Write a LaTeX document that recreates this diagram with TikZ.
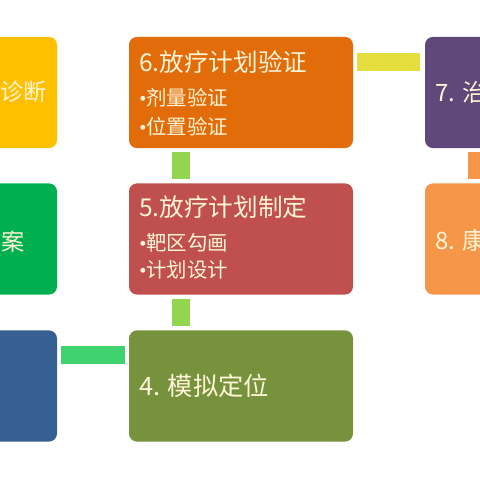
\documentclass[tikz,border=0pt]{standalone}
\usepackage{fontspec}
\setmainfont{Noto Sans CJK SC}
\newfontfamily\latinfont{Liberation Serif}
\usepackage{tikz}
\pgfdeclarelayer{bg}
\pgfsetlayers{bg,main}
\definecolor{boxyellow}{RGB}{255,192,0}
\definecolor{boxorange}{RGB}{227,108,10}
\definecolor{boxpurple}{RGB}{96,73,122}
\definecolor{boxgreen}{RGB}{0,176,80}
\definecolor{boxred}{RGB}{192,80,77}
\definecolor{boxlight}{RGB}{245,150,72}
\definecolor{boxblue}{RGB}{54,96,146}
\definecolor{boxolive}{RGB}{118,146,60}
\definecolor{linkyellow}{RGB}{228,222,62}
\definecolor{linklime}{RGB}{146,214,80}
\definecolor{linkgreen}{RGB}{64,210,110}
\definecolor{cream}{RGB}{255,245,215}
\newcommand{\itemdot}{{\latinfont\char"2022}}
\tikzset{
    every node/.style={inner sep=0mm},
    box/.style={rectangle, rounded corners=2mm, minimum width=5.6cm, minimum height=2.78cm},
    txt/.style={text=cream, anchor=west, font=\fontsize{17.5pt}{20pt}\selectfont},
    item/.style={txt, font=\fontsize{14.5pt}{17pt}\selectfont},
    link/.style={line width=4.5mm}
}
\begin{document}
\begin{tikzpicture}
        \useasboundingbox (0cm, 0cm) rectangle (12cm, 12cm);
        \clip (0cm, 0cm) rectangle (12cm, 12cm);
        \node (b1) [box, fill=boxyellow] at (-1.375cm, 9.6875cm) {};
        \node (b6) [box, fill=boxorange] at (6.025cm, 9.6875cm) {};
        \node (b7) [box, fill=boxpurple] at (13.425cm, 9.6875cm) {};
        \node (b2) [box, fill=boxgreen] at (-1.375cm, 6.025cm) {};
        \node (b5) [box, fill=boxred] at (6.025cm, 6.025cm) {};
        \node (b8) [box, fill=boxlight] at (13.425cm, 6.025cm) {};
        \node (b3) [box, fill=boxblue] at (-1.375cm, 2.35cm) {};
        \node (b4) [box, fill=boxolive] at (6.025cm, 2.35cm) {};
        \node (t1) [txt, anchor=east, font=\fontsize{16.5pt}{19pt}\selectfont] at (1.175cm, 9.7cm) {诊断};
        \node (t2) [txt, anchor=east, font=\fontsize{16.5pt}{19pt}\selectfont] at (0.625cm, 5.95cm) {案};
        \node (t6) [txt] at (3.475cm, 10.45cm) {6.放疗计划验证};
        \node (t6a) [item] at (3.475cm, 9.55cm) {\itemdot 剂量验证};
        \node (t6b) [item] at (3.475cm, 8.825cm) {\itemdot 位置验证};
        \node (t5) [txt] at (3.475cm, 6.825cm) {5.放疗计划制定};
        \node (t5a) [item] at (3.475cm, 5.925cm) {\itemdot 靶区勾画};
        \node (t5b) [item] at (3.475cm, 5.25cm) {\itemdot 计划设计};
        \node (t4) [txt, font=\fontsize{18pt}{21pt}\selectfont] at (3.475cm, 2.35cm) {4. 模拟定位};
        \node (t7) [txt, font=\fontsize{17pt}{20pt}\selectfont] at (10.875cm, 9.7cm) {7. 治};
        \node (t8) [txt, font=\fontsize{17pt}{20pt}\selectfont] at (10.875cm, 6.0cm) {8. 康};
        \begin{pgfonlayer}{bg}
                \draw ([shift={(0.1cm,-0.6375cm)}]b6.north east) edge [link, draw=linkyellow] ([shift={(-0.125cm,-0.6375cm)}]b7.north west);
                \draw ([shift={(1.3cm,-0.1cm)}]b6.south west) edge [link, draw=linklime] ([shift={(1.3cm,0.1cm)}]b5.north west);
                \draw ([shift={(1.3cm,-0.1cm)}]b5.south west) edge [link, draw=linklime] ([shift={(1.3cm,0.1cm)}]b4.north west);
                \draw ([shift={(1.3cm,-0.1cm)}]b7.south west) edge [link, draw=boxlight] ([shift={(1.3cm,0.1cm)}]b8.north west);
                \draw ([shift={(0.1cm,-0.625cm)}]b3.north east) edge [link, draw=linkgreen] ([shift={(-0.1cm,-0.625cm)}]b4.north west);
        \end{pgfonlayer}
\end{tikzpicture}
\end{document}
